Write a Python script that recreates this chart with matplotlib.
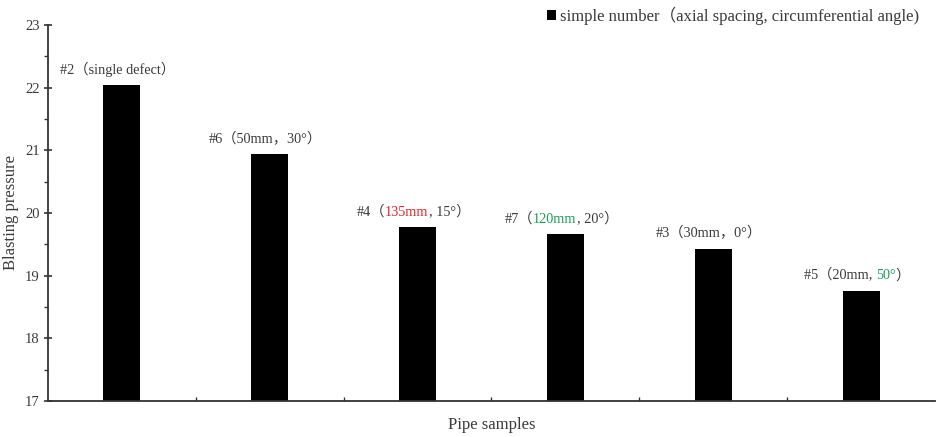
import matplotlib
matplotlib.use("Agg")
import matplotlib.pyplot as plt
import numpy as np
from matplotlib.ticker import MultipleLocator

# data
samples = ["#2", "#6", "#4", "#7", "#3", "#5"]
pressure = [22.04, 20.94, 19.77, 19.66, 19.43, 18.76]
# label pieces: (text, colour)
RED = "#e0262b"
GREEN = "#1f9e5a"
GREY = "#3a3a3a"
labels = [
    [("#2（single defect）", GREY)],
    [("#6（50mm，30°）", GREY)],
    [("#4（", GREY), ("135mm", RED), (", 15°）", GREY)],
    [("#7（", GREY), ("120mm", GREEN), (", 20°）", GREY)],
    [("#3（30mm，0°）", GREY)],
    [("#5（20mm, ", GREY), ("50°", GREEN), ("）", GREY)],
]
legend_label = "simple number（axial spacing, circumferential angle)"

FAM = ["Liberation Serif", "Noto Sans CJK SC", "DejaVu Sans"]
plt.rcParams["font.family"] = FAM

fig = plt.figure(figsize=(9.41, 4.37), dpi=100)
ax = fig.add_axes([0.051, 0.0824, 0.9426, 0.8604])

x = np.arange(len(samples))
ax.bar(x, pressure, width=0.25, color="black", label=legend_label, zorder=2)

ax.set_xlim(-0.5, len(samples) - 0.5)
ax.set_ylim(17, 23)
ax.yaxis.set_major_locator(MultipleLocator(1))
ax.yaxis.set_minor_locator(MultipleLocator(0.5))
ax.set_xticks(np.arange(len(samples) - 1) + 0.5)
ax.set_xticklabels([])
ax.tick_params(axis="x", direction="in", length=3, width=1, color="#333333")
ax.tick_params(axis="y", which="major", direction="inout", length=6, width=1.2,
               color="#333333", labelsize=10.5, labelcolor=GREY, pad=3)
ax.tick_params(axis="y", which="minor", direction="out", length=3, width=1,
               color="#333333")

for side in ["top", "right"]:
    ax.spines[side].set_visible(False)
for side in ["left", "bottom"]:
    ax.spines[side].set_linewidth(1.3)
    ax.spines[side].set_color("#333333")

ax.set_ylabel("Blasting pressure", fontsize=12, color=GREY, labelpad=4)
ax.set_xlabel("Pipe samples", fontsize=12, color=GREY, labelpad=8)

leg = ax.legend(loc="upper right", bbox_to_anchor=(0.984, 1.0),
                bbox_transform=fig.transFigure, frameon=False,
                fontsize=12, handlelength=0.55, handleheight=0.55,
                handletextpad=0.25, borderaxespad=0)
for t in leg.get_texts():
    t.set_color(GREY)

# multi-coloured labels above each bar, chained piece by piece
fig.canvas.draw()
renderer = fig.canvas.get_renderer()
for xi, yi, pieces in zip(x, pressure, labels):
    first = None
    prev = None
    texts = []
    for txt, col in pieces:
        if prev is None:
            prev = ax.annotate(txt, xy=(xi, yi), xycoords="data",
                               xytext=(0, 11), textcoords="offset points",
                               ha="left", va="center", color=col, fontsize=10.3)
            first = prev
        else:
            prev = ax.annotate(txt, xy=(1, 0), xycoords=prev,
                               ha="left", va="bottom", color=col, fontsize=10.3)
        texts.append(prev)
    fig.canvas.draw()
    x0 = texts[0].get_window_extent(renderer).x0
    x1 = texts[-1].get_window_extent(renderer).x1
    w = (x1 - x0) * 72.0 / fig.dpi
    first.xyann = (-w / 2 - 3, 11)

fig.savefig("out.png", dpi=100)
